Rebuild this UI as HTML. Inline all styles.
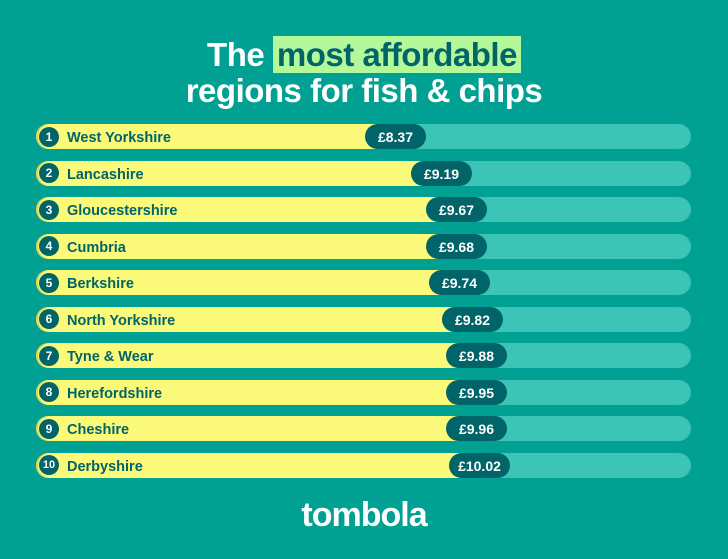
<!DOCTYPE html>
<html><head><style>
body{margin:0;width:728px;height:559px;background:#00a192;font-family:"Liberation Sans",sans-serif;position:relative;overflow:hidden}
.t{position:absolute;left:0;width:728px;text-align:center;color:#fff;font-weight:bold;font-size:33px;letter-spacing:-0.5px}
.hl{background:#b3f99a;color:#006468;padding:0 4px}
.row{position:absolute;left:36px;width:655px;height:25px;border-radius:13px;background:#3cc4b6}
.y{position:absolute;left:0;top:0;height:25px;border-radius:13px 0 0 13px;background:#fbf97a;box-shadow:inset 2px 0 0 #d9d55a}
.n{position:absolute;left:3px;top:2.5px;width:20px;height:20px;border-radius:50%;background:#006468;color:#fff;font-size:12px;font-weight:bold;text-align:center;line-height:21px}
.l{position:absolute;left:31px;top:2px;line-height:25px;color:#006468;font-weight:bold;font-size:14.5px}
.p{position:absolute;top:0;height:25px;width:61px;border-radius:13px;background:#006468;color:#fff;font-weight:bold;font-size:14px;text-align:center;line-height:26px}
</style></head><body>
<div class="t" style="top:36px;line-height:38px">The <span class="hl">most affordable</span></div>
<div class="t" style="top:72px;line-height:38px">regions for fish &amp; chips</div>
<div class="row" style="top:124px"><div class="y" style="width:360px"></div><div class="n">1</div><div class="l">West Yorkshire</div><div class="p" style="left:329px">£8.37</div></div>
<div class="row" style="top:160.5px"><div class="y" style="width:406px"></div><div class="n">2</div><div class="l">Lancashire</div><div class="p" style="left:375px">£9.19</div></div>
<div class="row" style="top:197px"><div class="y" style="width:421px"></div><div class="n">3</div><div class="l">Gloucestershire</div><div class="p" style="left:390px">£9.67</div></div>
<div class="row" style="top:233.5px"><div class="y" style="width:421px"></div><div class="n">4</div><div class="l">Cumbria</div><div class="p" style="left:390px">£9.68</div></div>
<div class="row" style="top:270px"><div class="y" style="width:424px"></div><div class="n">5</div><div class="l">Berkshire</div><div class="p" style="left:393px">£9.74</div></div>
<div class="row" style="top:306.5px"><div class="y" style="width:437px"></div><div class="n">6</div><div class="l">North Yorkshire</div><div class="p" style="left:406px">£9.82</div></div>
<div class="row" style="top:343px"><div class="y" style="width:441px"></div><div class="n">7</div><div class="l">Tyne &amp; Wear</div><div class="p" style="left:410px">£9.88</div></div>
<div class="row" style="top:379.5px"><div class="y" style="width:441px"></div><div class="n">8</div><div class="l">Herefordshire</div><div class="p" style="left:410px">£9.95</div></div>
<div class="row" style="top:416px"><div class="y" style="width:441px"></div><div class="n">9</div><div class="l">Cheshire</div><div class="p" style="left:410px">£9.96</div></div>
<div class="row" style="top:452.5px"><div class="y" style="width:444px"></div><div class="n" style="font-size:11px">10</div><div class="l">Derbyshire</div><div class="p" style="left:413px">£10.02</div></div>
<div class="t" style="top:493px;font-size:34px;line-height:44px;letter-spacing:-1px">tombola</div>
</body></html>
